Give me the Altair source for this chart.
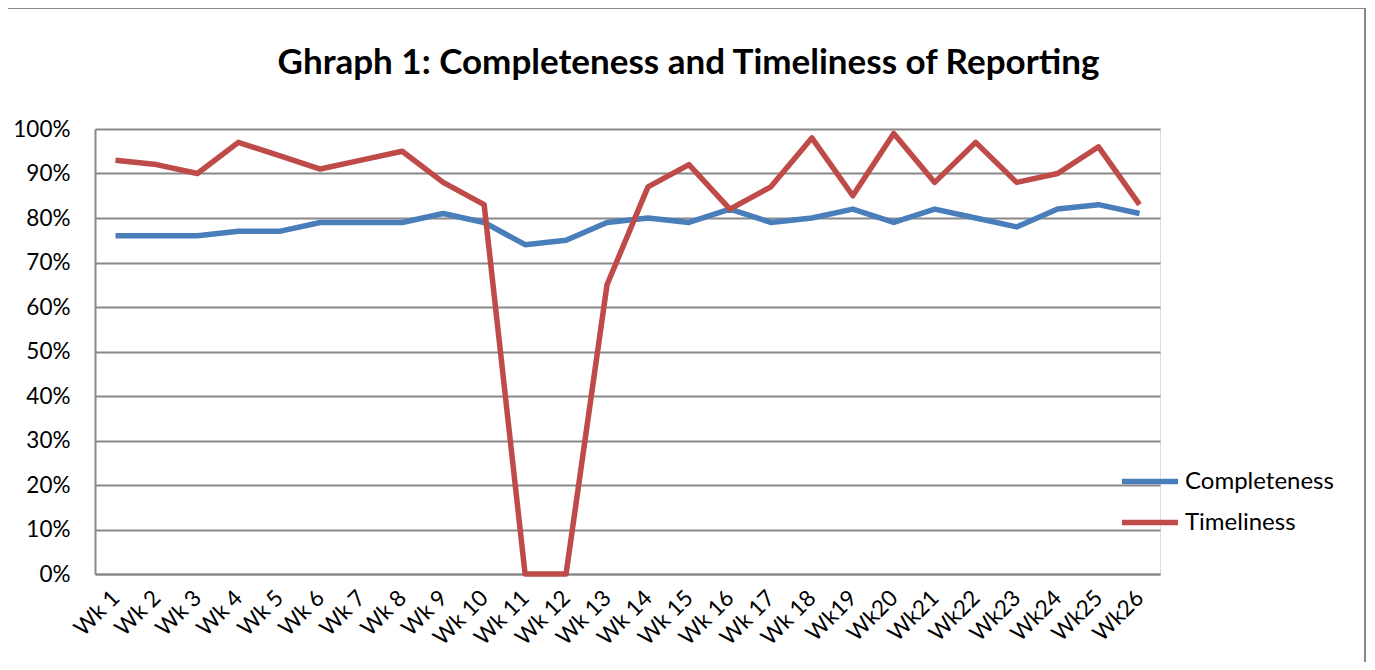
import altair as alt
import pandas as pd

weeks = ["Wk 1", "Wk 2", "Wk 3", "Wk 4", "Wk 5", "Wk 6", "Wk 7", "Wk 8", "Wk 9",
         "Wk 10", "Wk 11", "Wk 12", "Wk 13", "Wk 14", "Wk 15", "Wk 16", "Wk 17",
         "Wk 18", "Wk19", "Wk20", "Wk21", "Wk22", "Wk23", "Wk24", "Wk25", "Wk26"]
completeness = [76, 76, 76, 77, 77, 79, 79, 79, 81, 79, 74, 75, 79, 80, 79, 82,
                79, 80, 82, 79, 82, 80, 78, 82, 83, 81]
timeliness = [93, 92, 90, 97, 94, 91, 93, 95, 88, 83, 0, 0, 65, 87, 92, 82,
              87, 98, 85, 99, 88, 97, 88, 90, 96, 83]
series = ["Completeness", "Timeliness"]
colors = ["#4A7EBB", "#BE4B48"]

rows = []
for i, w in enumerate(weeks):
    rows.append({"week": w, "order": i, "series": series[0], "value": completeness[i] / 100})
    rows.append({"week": w, "order": i, "series": series[1], "value": timeliness[i] / 100})
df = pd.DataFrame(rows)

FONT = "Lato"
GRID = "#898989"

lines = alt.Chart(df).mark_line(strokeWidth=5.5, strokeJoin="round", strokeCap="butt").encode(
    x=alt.X("week:N", sort=weeks, title=None,
            scale=alt.Scale(paddingInner=0, paddingOuter=0),
            axis=alt.Axis(labelAngle=-45, labelAlign="right", labelBaseline="middle",
                          labelPadding=20, ticks=False, domainColor=GRID, domainWidth=2,
                          labelFont=FONT, labelFontSize=22.5, labelColor="#000000")),
    y=alt.Y("value:Q", title=None,
            scale=alt.Scale(domain=[0, 1], nice=False),
            axis=alt.Axis(format=".0%", values=[i / 10 for i in range(11)], ticks=False,
                          labelPadding=25, domainColor=GRID, domainWidth=2,
                          gridColor=GRID, gridWidth=2, gridOpacity=1,
                          labelFont=FONT, labelFontSize=22.5, labelColor="#000000")),
    color=alt.Color("series:N", scale=alt.Scale(domain=series, range=colors), title=None,
                    legend=alt.Legend(orient="none", legendX=1024, legendY=333,
                                      symbolType="stroke", symbolSize=3136, symbolStrokeWidth=5.5,
                                      labelFont=FONT, labelFontSize=24, labelColor="#000000",
                                      labelOffset=4, clipHeight=39, rowPadding=2, padding=0)),
    order="order:Q",
)

frame = alt.Chart(pd.DataFrame({"a": [0]})).mark_rect(
    fill=None, stroke="#888888", strokeWidth=2
).encode(
    x=alt.value(-88), x2=alt.value(1270), y=alt.value(-121), y2=alt.value(560)
)

chart = alt.layer(frame, lines).properties(
    width=1065, height=445,
    padding={"left": 87, "top": 121, "right": 207, "bottom": 88},
    autosize=alt.AutoSizeParams(type="none"),
    title=alt.Title("Ghraph 1: Completeness and Timeliness of Reporting",
                    font=FONT, fontSize=35, fontWeight="bold", color="#000000",
                    anchor="middle", dx=61, offset=-74),
).configure_view(stroke=None).configure(background="white")

chart.save("out.html", embed_options={"renderer": "svg", "actions": False})
